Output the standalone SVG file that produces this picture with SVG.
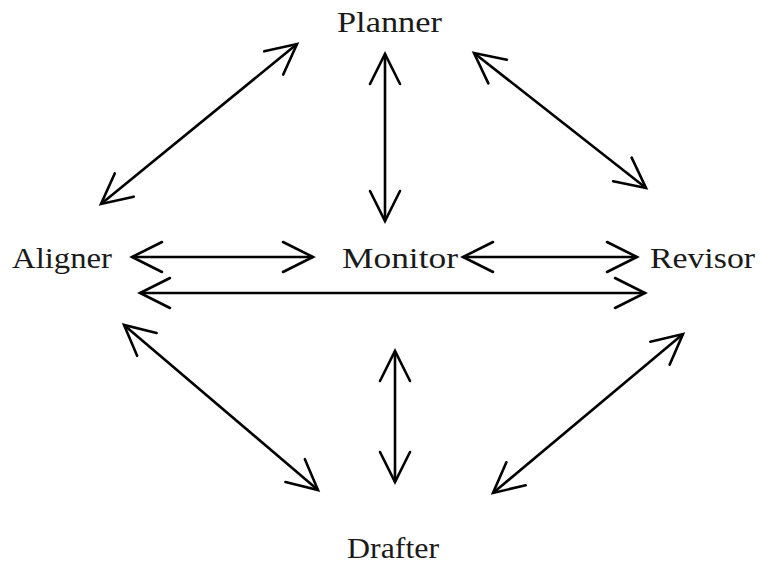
<svg xmlns="http://www.w3.org/2000/svg" width="763" height="564" viewBox="0 0 763 564">
  <style>
    .label { font-family: "Liberation Serif", "DejaVu Serif", serif; font-size: 30px; fill: #1a1a1a; }
    .link { stroke: #000; stroke-width: 2.6; fill: none; marker-start: url(#head); marker-end: url(#head); }
  </style>
  <defs>
    <!-- open V arrowhead, used at both ends of every link -->
    <marker id="head" markerUnits="userSpaceOnUse" viewBox="-34 -18 38 36" refX="0" refY="0" markerWidth="38" markerHeight="36" orient="auto-start-reverse">
      <path d="M -30,-15 L 0,0 L -30,15" fill="none" stroke="#000" stroke-width="2.6" stroke-linecap="round" stroke-linejoin="miter"/>
    </marker>
  </defs>
  <rect width="763" height="564" fill="#fff"/>

  <g id="connectors">
    <line class="link" x1="101" y1="204" x2="297" y2="44"/>
    <line class="link" x1="385" y1="54" x2="385" y2="221"/>
    <line class="link" x1="474" y1="53" x2="646" y2="188"/>
    <line class="link" x1="132" y1="257" x2="313" y2="257"/>
    <line class="link" x1="463" y1="257" x2="637" y2="257"/>
    <line class="link" x1="140" y1="293" x2="645" y2="293"/>
    <line class="link" x1="124" y1="325" x2="318" y2="490"/>
    <line class="link" x1="395" y1="351" x2="395" y2="482"/>
    <line class="link" x1="683" y1="334" x2="493" y2="493"/>
  </g>

  <g id="planner"><text class="label" x="337" y="32" textLength="105" lengthAdjust="spacingAndGlyphs">Planner</text></g>
  <g id="aligner"><text class="label" x="12" y="268" textLength="100" lengthAdjust="spacingAndGlyphs">Aligner</text></g>
  <g id="monitor"><text class="label" x="342" y="268" textLength="116" lengthAdjust="spacingAndGlyphs">Monitor</text></g>
  <g id="revisor"><text class="label" x="650" y="268" textLength="105" lengthAdjust="spacingAndGlyphs">Revisor</text></g>
  <g id="drafter"><text class="label" x="347" y="558" textLength="92" lengthAdjust="spacingAndGlyphs">Drafter</text></g>
</svg>
